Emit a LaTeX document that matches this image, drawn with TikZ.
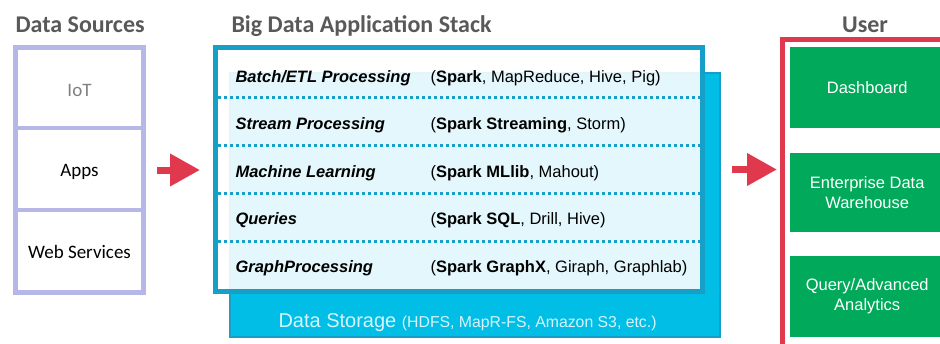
\documentclass[tikz,border=0pt]{standalone}
\usepackage{fontspec}
\setmainfont{Liberation Sans}
\newfontfamily\calib{Carlito}
\usetikzlibrary{arrows.meta}
\definecolor{srcblue}{RGB}{182,183,230}
\definecolor{titlegray}{RGB}{89,89,89}
\definecolor{arrowred}{RGB}{224,57,78}
\definecolor{stackline}{RGB}{22,160,200}
\definecolor{storecyan}{RGB}{0,190,230}
\definecolor{storetext}{RGB}{215,244,252}
\definecolor{usergreen}{RGB}{0,170,90}
\tikzset{
  title/.style={anchor=base west,text=titlegray,font=\calib\bfseries\fontsize{24}{28}\selectfont},
  srcbox/.style={draw=srcblue,line width=5pt,minimum width=128pt,minimum height=245pt},
  cell/.style={font=\calib\fontsize{19}{22}\selectfont},
  rowlabel/.style={anchor=base west,font=\bfseries\itshape\fontsize{16.5}{20}\selectfont},
  rowtools/.style={anchor=base west,font=\fontsize{16.5}{20}\selectfont},
  rowsep/.style={stackline,line width=3pt,dash pattern=on 2.5pt off 3.5pt},
  greenbox/.style={fill=usergreen,text=white,anchor=west,minimum width=154pt,align=center,
    font=\fontsize{16.5}{20}\selectfont},
  bigarrow/.style={arrowred,line width=7pt,-{Triangle[length=30pt,width=31pt]}}
}
\begin{document}
\begin{tikzpicture}[x=1pt,y=-1pt]
\useasboundingbox (0,0) rectangle (940,343);
\clip (0,0) rectangle (940,343);
% data sources
\node[title] (srctitle) at (12,32) {Data Sources};
\node[srcbox] (src) at (79.5,170) {};
\draw[srcblue,line width=4pt] (src.west |- 0,128) -- (src.east |- 0,128);
\draw[srcblue,line width=4pt] (src.west |- 0,210) -- (src.east |- 0,210);
\node[cell,text=gray] (iot) at (79.5,90) {IoT};
\node[cell] (apps) at (79.5,172) {Apps};
\node[cell] (web) at (79.5,252) {Web Services};
% application stack
\node[title] (stacktitle) at (228,32) {Big Data Application Stack};
\node[fill=storecyan,draw=stackline,line width=1.2pt,minimum width=490pt,minimum height=264pt] (storage) at (475,205) {};
\node[fill=white,fill opacity=0.89,draw=stackline,draw opacity=1,line width=5pt,minimum width=487pt,minimum height=244pt] (stack) at (459,169.5) {};
\foreach \y in {97,145,193,241}
  \draw[rowsep] (218,\y) -- (700,\y);
\foreach \lab/\tools [count=\i from 0] in {{Batch/ETL Processing}/{(\textbf{Spark}, MapReduce, Hive, Pig)},
    {Stream Processing}/{(\textbf{Spark Streaming}, Storm)},
    {Machine Learning}/{(\textbf{Spark MLlib}, Mahout)},
    {Queries}/{(\textbf{Spark SQL}, Drill, Hive)},
    {GraphProcessing}/{(\textbf{Spark GraphX}, Giraph, Graphlab)}}{
  \node[rowlabel] (row\i) at (232,82+47.5*\i) {\lab};
  \node[rowtools] (tools\i) at (427,82+47.5*\i) {\tools};
}
\node[anchor=base west,text=storetext,font=\fontsize{20}{24}\selectfont] (storelabel) at (275,327)
  {Data Storage {\fontsize{15.8}{20}\selectfont(HDFS, MapR-FS, Amazon S3, etc.)}};
% user
\node[title,anchor=base] (usertitle) at (865,32) {User};
\node[draw=arrowred,line width=5pt,anchor=north west,minimum width=200pt,minimum height=340pt] (user) at (780,37) {};
\node[greenbox,minimum height=81pt] (dash) at (790,87.5) {Dashboard};
\node[greenbox,minimum height=79pt] (edw) at (790,192.5) {Enterprise Data\\Warehouse};
\node[greenbox,minimum height=81pt] (query) at (790,296.5) {Query/Advanced\\Analytics};
% arrows
\draw[bigarrow] ([xshift=11pt]src.east) -- ([xshift=-13pt]src.east -| stack.west);
\draw[bigarrow] ([xshift=27pt]stack.east) -- ([xshift=-3pt]stack.east -| user.west);
\end{tikzpicture}
\end{document}
